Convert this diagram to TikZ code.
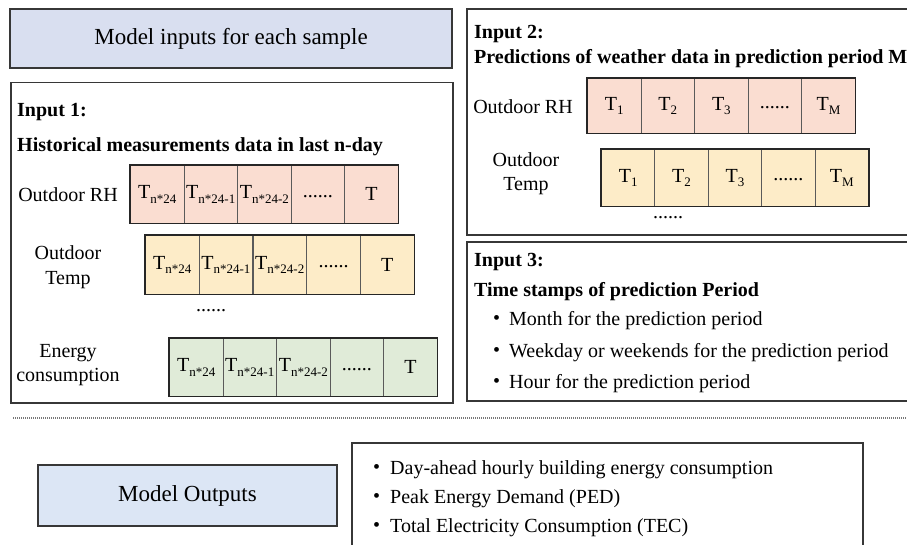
\documentclass[tikz,border=0pt]{standalone}
\usepackage{fontspec}
\setmainfont{Liberation Serif}

\definecolor{titlefill}{RGB}{217,223,240}
\definecolor{outfill}{RGB}{220,230,245}
\definecolor{rhfill}{RGB}{250,221,209}
\definecolor{tempfill}{RGB}{253,236,200}
\definecolor{energyfill}{RGB}{224,235,216}
\definecolor{framec}{RGB}{55,55,55}
\definecolor{divc}{RGB}{90,90,90}
\definecolor{sepc}{RGB}{120,120,120}

% time index with a lowered subscript
\newcommand\tsub[1]{T\raisebox{-0.5ex}{\fontsize{13}{13}\selectfont #1}}
% row of dots a little above the baseline, boxed as tall as a capital
\newcommand\rowdots{\raisebox{0.2em}[0.68em][0pt]{......}}
% bullet followed by a fixed gap
\newcommand\bulletbox[1]{\makebox[#1][l]{\raisebox{0.05em}{•}}}

\begin{document}
\begin{tikzpicture}[x=1pt,y=-1pt,
  panel/.style={draw=framec, line width=1.5pt},
  txt/.style={inner sep=0pt, font=\fontsize{20}{24}\selectfont},
  head/.style={inner sep=0pt, anchor=base west, font=\bfseries\fontsize{20}{24}\selectfont},
  bigtxt/.style={inner sep=0pt, font=\fontsize{23}{28}\selectfont},
  cell/.style={draw=divc, line width=0.7pt, inner sep=0pt, anchor=north west,
               minimum width=53.6pt, font=\fontsize{20}{24}\selectfont},
  rowframe/.style={draw=black!85, line width=1.5pt},
  sepline/.style={draw=sepc, line width=1.2pt, dash pattern=on 0.8pt off 1.2pt},
]
\clip (0,0) rectangle (907,545);
\fill[white] (0,0) rectangle (907,545);

% ---------- header ----------
\node[panel, bigtxt, fill=titlefill, minimum width=442pt, minimum height=59pt]
  (title) at (231,38.5) {Model inputs for each sample};

% ---------- input 1 ----------
\node[panel, minimum width=442pt, minimum height=320pt, anchor=north west]
  (inA) at (10,82) {};
\node[head] (inAhead) at (17,117) {Input 1:};
\node[head] (inAsub) at (17,152) {Historical measurements data in last n-day};

\node[txt, anchor=base] (lblRHa) at (68,202) {Outdoor RH};
\node[txt, anchor=base] (lblTa1) at (68,260) {Outdoor};
\node[txt, anchor=base] (lblTa2) at (68,284) {Temp};
\node[txt, anchor=base] (lblEa1) at (68,357) {Energy};
\node[txt, anchor=base] (lblEa2) at (68,381) {consumption};

\foreach \c [count=\i] in {{\tsub{n*24}},{\tsub{n*24-1}},{\tsub{n*24-2}},{\rowdots},T}
  \node[cell, fill=rhfill, minimum height=58pt] (rhA\i) at ({130+(\i-1)*53.6},165) {\c};
\draw[rowframe] (rhA1.north west) rectangle (rhA5.south east);

\foreach \c [count=\i] in {{\tsub{n*24}},{\tsub{n*24-1}},{\tsub{n*24-2}},{\rowdots},T}
  \node[cell, fill=tempfill, minimum height=59pt] (tpA\i) at ({145+(\i-1)*53.8},235) {\c};
\draw[rowframe] (tpA1.north west) rectangle (tpA5.south east);

\node[txt] (dotsA) at (211,311) {......};

\foreach \c [count=\i] in {{\tsub{n*24}},{\tsub{n*24-1}},{\tsub{n*24-2}},{\rowdots},T}
  \node[cell, fill=energyfill, minimum height=58pt] (enA\i) at ({169+(\i-1)*53.6},338) {\c};
\draw[rowframe] (enA1.north west) rectangle (enA5.south east);

% ---------- input 2 ----------
\draw[panel] (467,9) rectangle (915,235);
\node[head] (inBhead) at (474,39) {Input 2:};
\node[head] (inBsub) at (474,64) {Predictions of weather data in prediction period M};

\node[txt, anchor=base] (lblRHb) at (523,114) {Outdoor RH};
\node[txt, anchor=base] (lblTb1) at (526,167) {Outdoor};
\node[txt, anchor=base] (lblTb2) at (526,191) {Temp};

\foreach \c [count=\i] in {{\tsub{1}},{\tsub{2}},{\tsub{3}},{\rowdots},{\tsub{M}}}
  \node[cell, fill=rhfill, minimum height=55pt] (rhB\i) at ({587+(\i-1)*53.6},78) {\c};
\draw[rowframe] (rhB1.north west) rectangle (rhB5.south east);

\foreach \c [count=\i] in {{\tsub{1}},{\tsub{2}},{\tsub{3}},{\rowdots},{\tsub{M}}}
  \node[cell, fill=tempfill, minimum height=57pt] (tpB\i) at ({601+(\i-1)*53.4},149) {\c};
\draw[rowframe] (tpB1.north west) rectangle (tpB5.south east);

\node[txt] (dotsB) at (668,218) {......};

% ---------- input 3 ----------
\draw[panel] (467,242) rectangle (915,401);
\node[head] (inChead) at (474,267) {Input 3:};
\node[head] (inCsub) at (474,296) {Time stamps of prediction Period};
\node[txt, anchor=base west] (inC1) at (493,325) {\bulletbox{16pt}Month for the prediction period};
\node[txt, anchor=base west] (inC2) at (493,357) {\bulletbox{16pt}Weekday or weekends for the prediction period};
\node[txt, anchor=base west] (inC3) at (493,388) {\bulletbox{16pt}Hour for the prediction period};

% ---------- separator ----------
\coordinate (sepL) at (13,418);
\coordinate (sepR) at (907,418);
\draw[sepline] (sepL) -- (sepR);

% ---------- outputs ----------
\node[panel, bigtxt, fill=outfill, minimum width=299pt, minimum height=61pt]
  (outbox) at (187.5,495.5) {Model Outputs};
\draw[panel] (352,443) rectangle (863,560);
\node[txt, anchor=base west] (out1) at (373,474) {\bulletbox{17pt}Day-ahead hourly building energy consumption};
\node[txt, anchor=base west] (out2) at (373,503) {\bulletbox{17pt}Peak Energy Demand (PED)};
\node[txt, anchor=base west] (out3) at (373,532) {\bulletbox{17pt}Total Electricity Consumption (TEC)};
\end{tikzpicture}
\end{document}
